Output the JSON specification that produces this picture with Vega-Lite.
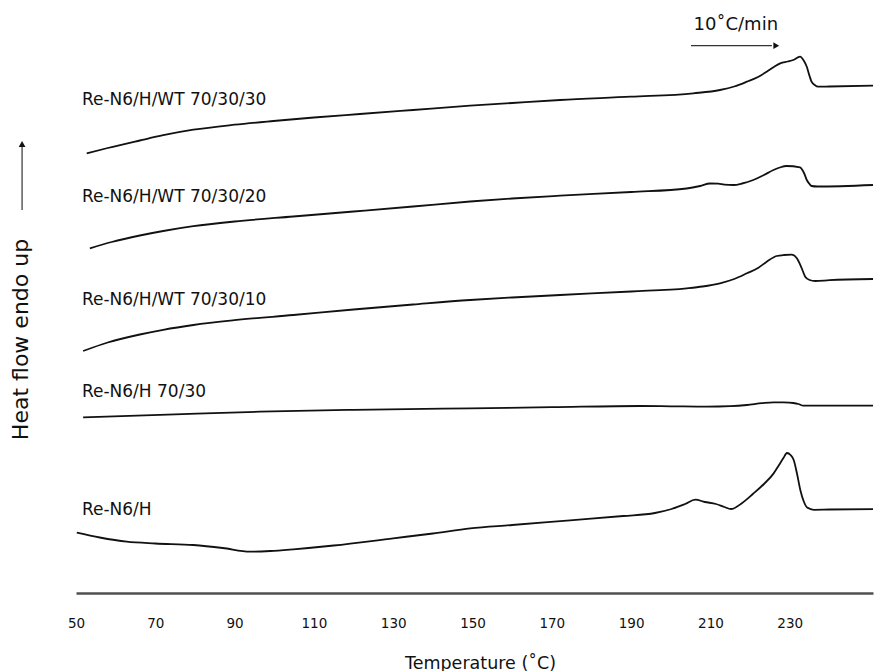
{
  "$schema": "https://vega.github.io/schema/vega-lite/v6.json",
  "width": 797,
  "height": 593,
  "autosize": "none",
  "padding": {"left": 76, "top": 0, "right": 2, "bottom": 78},
  "background": "white",
  "config": {"view": {"stroke": null}},
  "datasets": {
    "curves": [
      {"s":"A","t":52.7,"h":439.7},{"s":"A","t":58,"h":445},{"s":"A","t":66.1,"h":452.5},{"s":"A","t":72,"h":457.8},{"s":"A","t":79.6,"h":463.3},{"s":"A","t":90,"h":468.3},{"s":"A","t":99.8,"h":472},{"s":"A","t":110,"h":475.5},{"s":"A","t":121.6,"h":479},{"s":"A","t":135,"h":483},{"s":"A","t":149.4,"h":487.3},{"s":"A","t":160,"h":490},{"s":"A","t":172.1,"h":493},{"s":"A","t":190,"h":496.3},{"s":"A","t":205.7,"h":499.7},{"s":"A","t":212.4,"h":503},{"s":"A","t":216,"h":506.5},{"s":"A","t":219.2,"h":511.3},{"s":"A","t":222,"h":516},{"s":"A","t":224.2,"h":521.3},{"s":"A","t":226,"h":526},{"s":"A","t":227.6,"h":529.7},{"s":"A","t":229.5,"h":531.5},{"s":"A","t":230.9,"h":533},{"s":"A","t":232.6,"h":536.3},{"s":"A","t":233.6,"h":532},{"s":"A","t":234.3,"h":526.3},{"s":"A","t":235,"h":517},{"s":"A","t":235.5,"h":511.3},{"s":"A","t":236.3,"h":508},{"s":"A","t":237.2,"h":506.3},{"s":"A","t":240,"h":506.5},{"s":"A","t":251,"h":507.3},
      {"s":"B","t":53.5,"h":344.7},{"s":"B","t":59,"h":351},{"s":"B","t":66.1,"h":357.5},{"s":"B","t":72,"h":362},{"s":"B","t":79.6,"h":366.8},{"s":"B","t":90,"h":371.5},{"s":"B","t":104.8,"h":376.5},{"s":"B","t":120,"h":381.5},{"s":"B","t":135,"h":386.5},{"s":"B","t":149.4,"h":391.5},{"s":"B","t":160,"h":394.5},{"s":"B","t":172.1,"h":397.3},{"s":"B","t":190,"h":401},{"s":"B","t":204,"h":404.5},{"s":"B","t":207.4,"h":407},{"s":"B","t":209.9,"h":409.5},{"s":"B","t":212,"h":409.3},{"s":"B","t":213.5,"h":408.3},{"s":"B","t":215.8,"h":408},{"s":"B","t":218,"h":409.5},{"s":"B","t":220.8,"h":413},{"s":"B","t":223.5,"h":418},{"s":"B","t":225.9,"h":423},{"s":"B","t":227.5,"h":425.5},{"s":"B","t":229.2,"h":427},{"s":"B","t":232.6,"h":425.7},{"s":"B","t":233.6,"h":420},{"s":"B","t":234.3,"h":413},{"s":"B","t":235,"h":409},{"s":"B","t":235.5,"h":407},{"s":"B","t":237,"h":406.5},{"s":"B","t":251,"h":408},
      {"s":"C","t":51.8,"h":242},{"s":"C","t":58,"h":250.5},{"s":"C","t":66.1,"h":258.5},{"s":"C","t":72,"h":263.2},{"s":"C","t":79.6,"h":268},{"s":"C","t":90,"h":272.8},{"s":"C","t":104.8,"h":278},{"s":"C","t":120,"h":283.5},{"s":"C","t":135,"h":288.5},{"s":"C","t":149.4,"h":293},{"s":"C","t":160,"h":295.5},{"s":"C","t":172.1,"h":298},{"s":"C","t":190,"h":301.5},{"s":"C","t":204,"h":304.7},{"s":"C","t":208,"h":306.5},{"s":"C","t":212.4,"h":309.7},{"s":"C","t":216,"h":314},{"s":"C","t":219.2,"h":319.7},{"s":"C","t":222,"h":325},{"s":"C","t":224.2,"h":331.3},{"s":"C","t":226.7,"h":337},{"s":"C","t":228.5,"h":338},{"s":"C","t":230.5,"h":338.3},{"s":"C","t":231.8,"h":334.7},{"s":"C","t":233,"h":325},{"s":"C","t":233.9,"h":316.3},{"s":"C","t":235,"h":313},{"s":"C","t":236.4,"h":312},{"s":"C","t":240,"h":312.8},{"s":"C","t":251,"h":314},
      {"s":"D","t":51.8,"h":175.7},{"s":"D","t":75,"h":178.7},{"s":"D","t":96.4,"h":181.3},{"s":"D","t":120,"h":183.2},{"s":"D","t":149.4,"h":184.7},{"s":"D","t":170,"h":185.8},{"s":"D","t":192.2,"h":187},{"s":"D","t":200,"h":186.7},{"s":"D","t":209.1,"h":186.3},{"s":"D","t":215,"h":186.8},{"s":"D","t":219.2,"h":188},{"s":"D","t":223,"h":189.8},{"s":"D","t":225.9,"h":190.7},{"s":"D","t":228.5,"h":190.6},{"s":"D","t":230.9,"h":190},{"s":"D","t":232.2,"h":189},{"s":"D","t":233.4,"h":187.3},{"s":"D","t":240,"h":187.3},{"s":"D","t":251,"h":187.3},
      {"s":"E","t":50.2,"h":60.3},{"s":"E","t":56,"h":55.5},{"s":"E","t":62.8,"h":51.3},{"s":"E","t":70,"h":49.5},{"s":"E","t":79.6,"h":48},{"s":"E","t":87,"h":45},{"s":"E","t":93.9,"h":41.3},{"s":"E","t":99,"h":42},{"s":"E","t":104.8,"h":43.7},{"s":"E","t":115,"h":47.5},{"s":"E","t":130,"h":54.7},{"s":"E","t":140,"h":59.5},{"s":"E","t":149.4,"h":64.7},{"s":"E","t":160,"h":68},{"s":"E","t":174.6,"h":72.7},{"s":"E","t":188,"h":77},{"s":"E","t":196,"h":80},{"s":"E","t":200.2,"h":84},{"s":"E","t":203.6,"h":89},{"s":"E","t":206.2,"h":93.3},{"s":"E","t":208.6,"h":91},{"s":"E","t":211.4,"h":89},{"s":"E","t":213.5,"h":86},{"s":"E","t":215.2,"h":84},{"s":"E","t":218,"h":90},{"s":"E","t":220.7,"h":99},{"s":"E","t":223.5,"h":109},{"s":"E","t":225.9,"h":119.4},{"s":"E","t":227.3,"h":128},{"s":"E","t":228.4,"h":135},{"s":"E","t":229.3,"h":140},{"s":"E","t":230.2,"h":138},{"s":"E","t":231,"h":133},{"s":"E","t":231.8,"h":120},{"s":"E","t":232.7,"h":102.5},{"s":"E","t":233.5,"h":92},{"s":"E","t":234.4,"h":85.5},{"s":"E","t":236.1,"h":83.2},{"s":"E","t":240,"h":83.5},{"s":"E","t":251,"h":83.8}
    ],
    "labels": [
      {"label":"Re-N6/H/WT 70/30/30","t":51.5,"h":493},
      {"label":"Re-N6/H/WT 70/30/20","t":51.5,"h":396.5},
      {"label":"Re-N6/H/WT 70/30/10","t":51.5,"h":293},
      {"label":"Re-N6/H 70/30","t":51.5,"h":201.5},
      {"label":"Re-N6/H","t":51.5,"h":83.5}
    ],
    "arrows": [
      {"name":"rate","t":205.1,"t2":225.5,"h":547.3,"h2":547.3},
      {"name":"endo","t":36.4,"t2":36.4,"h":383,"h2":446}
    ],
    "heads": [
      {"name":"rate","t":226.6,"h":547.3,"shape":"triangle-right"},
      {"name":"endo","t":36.4,"h":449,"shape":"triangle-up"}
    ],
    "notes": [
      {"text":"10˚C/min","t":216.4,"h":568}
    ]
  },
  "layer": [
    {
      "data": {"name": "curves"},
      "mark": {"type": "line", "color": "#111111", "strokeWidth": 1.8, "interpolate": "monotone"},
      "encoding": {
        "x": {
          "field": "t", "type": "quantitative",
          "scale": {"domain": [50, 251], "nice": false, "zero": false},
          "axis": {
            "title": "Temperature (˚C)",
            "values": [50, 70, 90, 110, 130, 150, 170, 190, 210, 230],
            "grid": false, "ticks": false, "tickSize": 0,
            "domainColor": "#505050", "domainWidth": 2.5,
            "labelPadding": 23, "labelFont": "DejaVu Sans", "labelFontSize": 13.5, "labelColor": "#111111",
            "labelFlush": false,
            "titleFont": "DejaVu Sans", "titleFontSize": 17.5, "titleFontWeight": "normal", "titleColor": "#111111",
            "titleX": 404, "titleY": 75, "titleBaseline": "alphabetic", "titleAnchor": null
          }
        },
        "y": {
          "field": "h", "type": "quantitative",
          "scale": {"domain": [0, 593], "nice": false, "zero": false},
          "axis": {
            "title": "Heat flow endo up",
            "grid": false, "ticks": false, "labels": false, "domain": false,
            "titleFont": "DejaVu Sans", "titleFontSize": 22, "titleFontWeight": "normal", "titleColor": "#111111",
            "titleAngle": -90, "titleX": -56, "titleY": 339, "titleBaseline": "middle", "titleAlign": "center"
          }
        },
        "detail": {"field": "s", "type": "nominal"}
      }
    },
    {
      "data": {"name": "labels"},
      "mark": {"type": "text", "align": "left", "baseline": "middle", "font": "DejaVu Sans", "fontSize": 17, "color": "#111111"},
      "encoding": {
        "x": {"field": "t", "type": "quantitative"},
        "y": {"field": "h", "type": "quantitative"},
        "text": {"field": "label", "type": "nominal"}
      }
    },
    {
      "data": {"name": "arrows"},
      "mark": {"type": "rule", "color": "#333333", "strokeWidth": 1.2},
      "encoding": {
        "x": {"field": "t", "type": "quantitative"},
        "x2": {"field": "t2"},
        "y": {"field": "h", "type": "quantitative"},
        "y2": {"field": "h2"}
      }
    },
    {
      "data": {"name": "heads"},
      "mark": {"type": "point", "filled": true, "color": "#111111", "opacity": 1, "size": 45},
      "encoding": {
        "x": {"field": "t", "type": "quantitative"},
        "y": {"field": "h", "type": "quantitative"},
        "shape": {"field": "shape", "type": "nominal", "scale": null, "legend": null}
      }
    },
    {
      "data": {"name": "notes"},
      "mark": {"type": "text", "align": "center", "baseline": "middle", "font": "DejaVu Sans", "fontSize": 18, "color": "#111111"},
      "encoding": {
        "x": {"field": "t", "type": "quantitative"},
        "y": {"field": "h", "type": "quantitative"},
        "text": {"field": "text", "type": "nominal"}
      }
    }
  ]
}
